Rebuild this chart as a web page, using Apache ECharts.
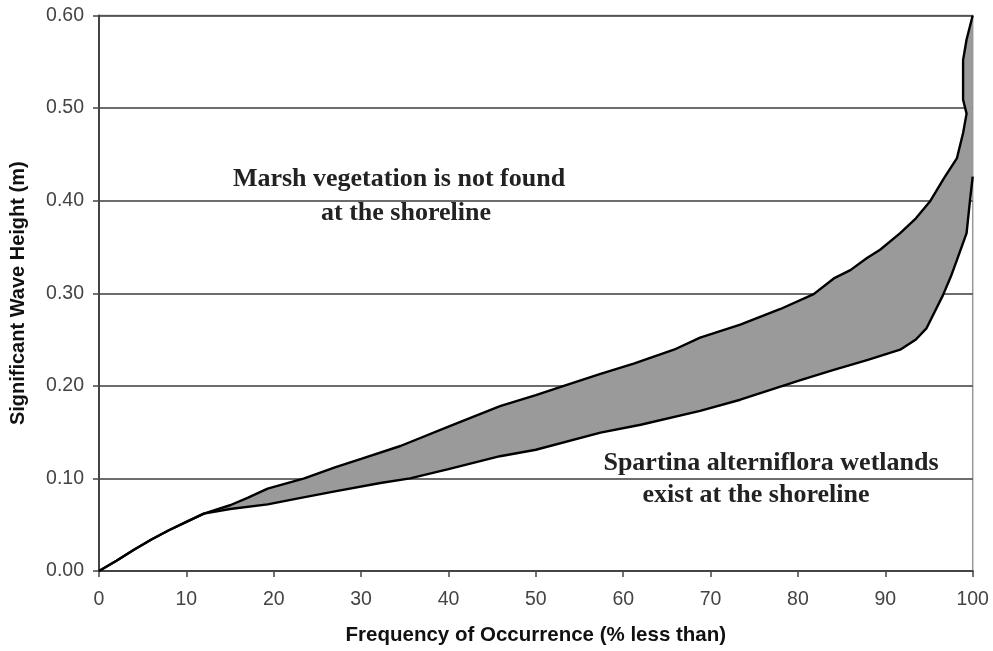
<!DOCTYPE html>
<html>
<head>
<meta charset="utf-8">
<script src="https://cdn.jsdelivr.net/npm/echarts@6/dist/echarts.min.js"></script>
<style>html,body{margin:0;padding:0;background:#fff;}#c{width:993px;height:651px;}</style>
</head>
<body>
<div id="c"></div>
<script>
// Shared start of both curves (x = % less than, y = wave height m)
var sharedPath = [[0,0],[2,0.011],[4,0.023],[6,0.034],[8,0.044],[10,0.053],[12,0.062]];
// Upper boundary (marsh vegetation not found)
var upperPath = [[12,0.062],[15,0.071],[17,0.079],[19.3,0.089],[23.5,0.100],[27,0.112],[30,0.121],[34.5,0.135],[40,0.156],[45.9,0.178],[50,0.190],[53.2,0.200],[57.4,0.213],[61.2,0.224],[65.8,0.239],[68.8,0.252],[73.4,0.266],[78,0.283],[81.8,0.299],[84.1,0.316],[86,0.325],[87.9,0.338],[89.4,0.347],[91.7,0.365],[93.5,0.381],[95.1,0.399],[96.7,0.424],[98.2,0.446],[98.9,0.473],[99.3,0.494],[98.9,0.509],[98.9,0.552],[99.3,0.574],[100,0.600]];
// Lower boundary (Spartina alterniflora wetlands exist)
var lowerPath = [[12,0.062],[15,0.067],[19.3,0.072],[23.1,0.079],[27,0.086],[32.2,0.095],[35.6,0.100],[40,0.110],[45.9,0.124],[50,0.131],[57.4,0.1495],[62,0.158],[68.8,0.173],[73.4,0.185],[80.2,0.206],[84,0.217],[88,0.228],[91.7,0.239],[93.5,0.250],[94.7,0.262],[96.6,0.298],[97.5,0.318],[98.2,0.336],[99.3,0.365],[99.7,0.401],[100,0.426]];
var xTicks = [0,10,20,30,40,50,60,70,80,90,100];
var yTicks = ['0.00','0.10','0.20','0.30','0.40','0.50','0.60'];

var upperFull = sharedPath.concat(upperPath.slice(1));
var lowerFull = sharedPath.concat(lowerPath.slice(1));
var bandPoly = upperPath.concat(lowerPath.slice().reverse());

var chart = echarts.init(document.getElementById('c'), null, {renderer:'canvas'});
var tickFont = {color:'#444', fontSize:19.5, fontFamily:'Liberation Sans'};
var noteFont = 'bold 26px "Liberation Serif"';
chart.setOption({
  animation:false,
  backgroundColor:'#fff',
  grid:{left:98.3, right:20.3, top:15.5, bottom:79, show:true, borderColor:'#999', borderWidth:1.5, containLabel:false},
  xAxis:{type:'value', min:0, max:100, interval:10,
    name:'Frequency of Occurrence (% less than)', nameLocation:'middle', nameGap:54,
    nameTextStyle:{fontSize:20.5, fontWeight:'bold', color:'#111', fontFamily:'Liberation Sans'},
    axisLine:{show:true, onZero:false, lineStyle:{color:'#444', width:2}},
    axisTick:{show:true, length:6, lineStyle:{color:'#444', width:1.5}},
    axisLabel:Object.assign({margin:19, formatter:function(v){return xTicks.indexOf(v)>=0? String(v):'';}}, tickFont),
    splitLine:{show:false}},
  yAxis:{type:'value', min:0, max:0.6, interval:0.1,
    name:'Significant Wave Height (m)', nameLocation:'middle', nameGap:71, nameRotate:90,
    nameTextStyle:{fontSize:20, fontWeight:'bold', color:'#111', fontFamily:'Liberation Sans'},
    axisLine:{show:true, lineStyle:{color:'#444', width:2}},
    axisTick:{show:true, length:6, lineStyle:{color:'#444', width:1.5}},
    axisLabel:Object.assign({margin:15, formatter:function(v){return yTicks[Math.round(v*10)];}}, tickFont),
    splitLine:{show:true, lineStyle:{color:'#3c3c3c', width:1.6}}},
  series:[
    {type:'custom', z:1, data:[0], clip:true,
      renderItem:function(params, api){
        var pts = bandPoly.map(function(p){return api.coord(p);});
        return {type:'polygon', shape:{points:pts}, style:{fill:'#9a9a9a', stroke:null}};
      }},
    {type:'line', z:3, data:upperFull, showSymbol:false, symbol:'none', lineStyle:{color:'#000', width:2.4}},
    {type:'line', z:3, data:lowerFull, showSymbol:false, symbol:'none', lineStyle:{color:'#000', width:2.4}}
  ],
  graphic:[
    {type:'text', x:399, y:179, style:{text:'Marsh vegetation is not found', fill:'#222', font:noteFont, textAlign:'center', textVerticalAlign:'middle'}},
    {type:'text', x:406, y:213, style:{text:'at the shoreline', fill:'#222', font:noteFont, textAlign:'center', textVerticalAlign:'middle'}},
    {type:'text', x:771, y:463, style:{text:'Spartina alterniflora wetlands', fill:'#222', font:noteFont, textAlign:'center', textVerticalAlign:'middle'}},
    {type:'text', x:756, y:495, style:{text:'exist at the shoreline', fill:'#222', font:noteFont, textAlign:'center', textVerticalAlign:'middle'}}
  ]
});
</script>
</body>
</html>
